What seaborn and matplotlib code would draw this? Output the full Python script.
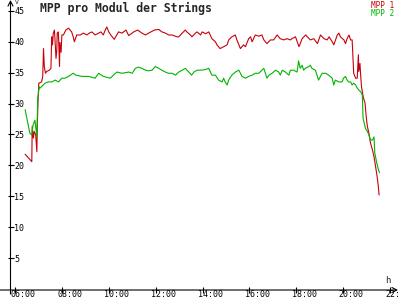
import matplotlib
matplotlib.use("Agg")
import matplotlib.pyplot as plt
import matplotlib.transforms as mtransforms
import seaborn as sns
import pandas as pd

title = "MPP pro Modul der Strings"
series_names = ["MPP 1", "MPP 2"]
series_colors = ["#c8000a", "#00b400"]
y_ticks = [5, 10, 15, 20, 25, 30, 35, 40, 45]
x_tick_hours = [6, 8, 10, 12, 14, 16, 18, 20, 22]
x_tick_labels = ["06:00", "08:00", "10:00", "12:00", "14:00", "16:00", "18:00", "20:00", "22:00"]
y_unit = "V"
x_unit = "h"

mpp1_times = ["06:26", "06:43", "06:44", "06:47", "06:49", "06:53", "06:56", "06:57", "06:59", "07:01",
              "07:08", "07:11", "07:13", "07:15", "07:18", "07:21", "07:28", "07:32", "07:34", "07:36",
              "07:38", "07:41", "07:45", "07:47", "07:48", "07:51", "07:54", "07:55", "07:58", "08:00",
              "08:04", "08:10", "08:17", "08:25", "08:29", "08:32", "08:38", "08:47", "08:55", "09:04",
              "09:10", "09:17", "09:25", "09:34", "09:40", "09:46", "09:51", "09:55", "10:00", "10:05",
              "10:14", "10:25", "10:34", "10:44", "10:51", "11:04", "11:14", "11:25", "11:34", "11:42",
              "11:57", "12:08", "12:16", "12:25", "12:33", "12:42", "12:55", "12:59", "13:08", "13:16",
              "13:20", "13:29", "13:33", "13:42", "13:46", "13:55", "13:59", "14:08", "14:16", "14:24",
              "14:33", "14:37", "14:45", "14:54", "15:03", "15:07", "15:15", "15:24", "15:28", "15:33",
              "15:37", "15:45", "15:50", "15:58", "16:03", "16:07", "16:15", "16:24", "16:32", "16:37",
              "16:45", "16:54", "17:02", "17:11", "17:19", "17:28", "17:36", "17:45", "17:49", "17:58",
              "18:07", "18:15", "18:24", "18:36", "18:45", "18:54", "19:02", "19:11", "19:19", "19:24",
              "19:32", "19:36", "19:45", "19:49", "19:53", "20:02", "20:06", "20:10", "20:15", "20:19",
              "20:23", "20:25", "20:27", "20:32", "20:36", "20:39", "20:40", "20:43", "20:45", "20:47",
              "20:52", "20:56", "20:59", "21:02", "21:06", "21:10", "21:15", "21:19", "21:23", "21:27",
              "21:30", "21:32"]
mpp1_values = [21.8, 20.6, 26.3, 24.4, 25.5, 24.9, 22.2, 26.3, 30.6, 33.3,
               33.5, 34.4, 38.9, 36.0, 34.9, 35.2, 35.4, 35.7, 40.8, 39.5,
               41.4, 41.9, 37.3, 38.6, 41.4, 41.6, 36.0, 39.9, 38.3, 41.1,
               41.1, 41.9, 42.2, 41.6, 40.8, 40.0, 41.1, 41.1, 41.4, 41.1,
               41.4, 41.6, 41.1, 41.4, 41.6, 41.1, 41.9, 42.4, 41.6, 41.1,
               40.4, 41.6, 41.4, 41.9, 41.0, 41.6, 41.9, 41.4, 41.1, 41.4,
               41.9, 42.0, 41.6, 41.4, 41.1, 41.1, 40.8, 40.8, 41.4, 41.9,
               41.6, 41.1, 40.8, 41.4, 41.6, 41.1, 41.6, 41.3, 41.6, 40.5,
               40.0, 39.5, 38.9, 39.2, 39.5, 40.3, 40.8, 41.1, 40.3, 39.5,
               38.9, 39.5, 39.2, 40.5, 40.8, 40.0, 41.1, 40.9, 41.1, 40.3,
               39.7, 40.3, 40.3, 41.1, 40.5, 40.3, 40.5, 40.3, 40.5, 40.8,
               39.2, 40.5, 41.1, 40.3, 40.5, 39.7, 41.1, 40.5, 40.3, 40.8,
               40.0, 39.5, 41.1, 41.4, 40.8, 40.3, 39.7, 40.5, 41.1, 40.3,
               40.3, 37.6, 34.9, 34.1, 34.1, 37.9, 35.2, 36.5, 34.4, 32.7,
               30.9, 30.1, 27.9, 26.3, 25.2, 23.6, 22.5, 21.4, 19.8, 18.2,
               16.6, 15.2]

mpp2_times = ["06:26", "06:38", "06:43", "06:46", "06:51", "06:54", "06:56", "06:58", "07:02", "07:04",
              "07:17", "07:25", "07:34", "07:43", "07:51", "08:00", "08:08", "08:17", "08:29", "08:36",
              "08:51", "09:08", "09:25", "09:34", "09:46", "10:04", "10:12", "10:21", "10:34", "10:51",
              "11:00", "11:08", "11:16", "11:25", "11:34", "11:42", "11:51", "11:59", "12:08", "12:16",
              "12:25", "12:33", "12:42", "12:51", "12:59", "13:08", "13:16", "13:25", "13:32", "13:38",
              "13:46", "13:55", "14:07", "14:16", "14:24", "14:33", "14:41", "14:50", "14:54", "14:58",
              "15:03", "15:07", "15:15", "15:24", "15:33", "15:37", "15:41", "15:50", "15:58", "16:07",
              "16:15", "16:24", "16:32", "16:37", "16:41", "16:45", "16:50", "16:58", "17:07", "17:15",
              "17:19", "17:24", "17:32", "17:41", "17:45", "17:53", "18:02", "18:06", "18:10", "18:15",
              "18:19", "18:23", "18:32", "18:36", "18:40", "18:49", "18:53", "18:57", "19:02", "19:06",
              "19:15", "19:23", "19:32", "19:36", "19:40", "19:49", "19:57", "20:01", "20:06", "20:10",
              "20:14", "20:19", "20:23", "20:27", "20:32", "20:36", "20:40", "20:45", "20:49", "20:51",
              "20:53", "20:57", "21:02", "21:06", "21:10", "21:15", "21:19", "21:21", "21:26", "21:29",
              "21:33"]
mpp2_values = [29.0, 25.2, 24.9, 26.5, 27.3, 25.7, 24.6, 30.6, 32.7, 32.5,
               33.3, 33.5, 33.5, 33.8, 33.5, 34.1, 34.1, 34.4, 34.9, 34.6,
               34.4, 34.4, 34.1, 34.9, 34.4, 34.1, 34.6, 35.1, 34.9, 35.1,
               34.9, 35.7, 35.9, 35.7, 35.4, 35.3, 35.4, 36.0, 35.7, 35.4,
               35.1, 34.9, 34.9, 34.6, 35.1, 35.4, 35.7, 35.1, 34.6, 35.1,
               35.4, 35.4, 35.5, 35.7, 34.6, 34.6, 33.8, 33.5, 34.1, 33.5,
               33.0, 33.8, 34.6, 35.1, 35.4, 34.9, 34.4, 34.1, 34.4, 34.6,
               34.9, 34.9, 35.4, 35.7, 34.9, 34.1, 34.6, 34.9, 35.4, 35.1,
               34.6, 35.4, 35.1, 34.6, 35.4, 35.4, 35.1, 36.9, 35.7, 36.2,
               35.4, 35.7, 36.0, 36.2, 35.7, 35.4, 34.6, 33.8, 34.4, 34.9,
               34.9, 34.6, 34.1, 33.0, 33.8, 33.5, 33.5, 34.1, 34.4, 33.8,
               33.5, 33.5, 33.0, 33.3, 33.0, 32.5, 32.2, 31.9, 31.4, 27.6,
               27.1, 26.0, 25.5, 24.9, 24.1, 24.1, 24.6, 22.0, 20.4, 19.6,
               18.8]


def to_hours(t):
    h, m = t.split(":")
    return int(h) + int(m) / 60.0


df = pd.concat([
    pd.DataFrame({"hour": [to_hours(t) for t in mpp1_times], "value": mpp1_values, "series": series_names[0]}),
    pd.DataFrame({"hour": [to_hours(t) for t in mpp2_times], "value": mpp2_values, "series": series_names[1]}),
], ignore_index=True)

sns.set_style("white")
plt.rcParams["font.family"] = ["DejaVu Sans Mono", "DejaVu Sans"]

W, H = 400, 300
fig = plt.figure(figsize=(4, 3), dpi=100)
ax = fig.add_axes([10.5 / W, 10 / H, 387.5 / W, 290 / H])

sns.lineplot(data=df, x="hour", y="value", hue="series", palette=series_colors,
             hue_order=series_names, estimator=None, sort=False, linewidth=0.8,
             legend=False, ax=ax)

ax.set_xlim(5.808, 22.34)
ax.set_ylim(-0.17, 46.76)
for s in ax.spines.values():
    s.set_visible(False)
ax.set_xlabel("")
ax.set_ylabel("")

ax.set_xticks(x_tick_hours)
ax.set_xticklabels(x_tick_labels)
ax.set_yticks(y_ticks)
ax.set_yticklabels([str(v) for v in y_ticks])
ax.tick_params(axis="both", direction="inout", length=4.6, width=0.8, color="black",
               labelsize=6, labelcolor="black", left=True, bottom=True)
ax.tick_params(axis="y", pad=-5.0)
ax.tick_params(axis="x", pad=-2.6)
for lbl in ax.get_yticklabels():
    lbl.set_horizontalalignment("left")
off = mtransforms.ScaledTranslation(7.8 / 100, 0, fig.dpi_scale_trans)
for lbl in ax.get_xticklabels():
    lbl.set_transform(lbl.get_transform() + off)

arrow = dict(arrowstyle="->,head_length=0.35,head_width=0.18", lw=0.8, color="black",
             shrinkA=0, shrinkB=0)
ax.annotate("", xy=(1.0, 0), xytext=(-10.5 / 387.5, 0), xycoords="axes fraction",
            textcoords="axes fraction", arrowprops=arrow, annotation_clip=False)
ax.annotate("", xy=(0, 1.0), xytext=(0, -4 / 290), xycoords="axes fraction",
            textcoords="axes fraction", arrowprops=arrow, annotation_clip=False)

fig.text(40 / W, 1 - 2 / H, title, ha="left", va="top", fontsize=8.3, fontweight="bold")
fig.text(394 / W, 1 - 1.5 / H, series_names[0], ha="right", va="top", fontsize=5.6, color=series_colors[0])
fig.text(394 / W, 1 - 9.5 / H, series_names[1], ha="right", va="top", fontsize=5.6, color=series_colors[1])
fig.text(14.5 / W, 1 - 0 / H, y_unit, ha="left", va="top", fontsize=4.5)
fig.text(385 / W, 1 - 283 / H, x_unit, ha="left", va="baseline", fontsize=6.5)

fig.savefig("out.png", dpi=100)
